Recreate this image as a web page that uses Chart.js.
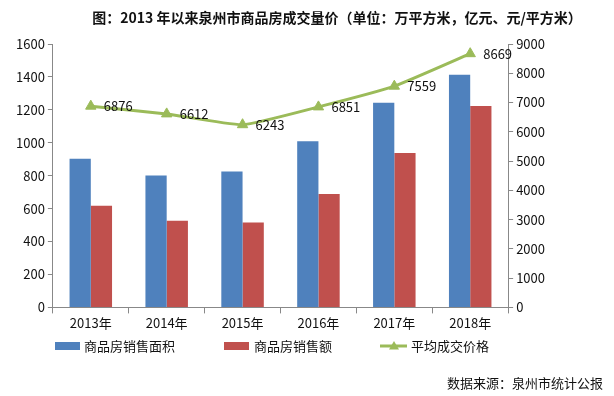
<!DOCTYPE html>
<html><head><meta charset="utf-8">
<script src="https://cdn.jsdelivr.net/npm/chart.js@4.4.1/dist/chart.umd.min.js"></script>
<style>html,body{margin:0;padding:0;background:#fff}#wrap{width:614px;height:396px;position:relative}</style>
</head><body><div id="wrap"><canvas id="c" width="614" height="396"></canvas></div>
<script>
const titleText = '图：2013 年以来泉州市商品房成交量价（单位：万平方米，亿元、元/平方米）';
const sourceText = '数据来源：泉州市统计公报';
const categories = ['2013年','2014年','2015年','2016年','2017年','2018年'];
const areaName = '商品房销售面积';
const salesName = '商品房销售额';
const priceName = '平均成交价格';
const areaValues = [903, 801, 826, 1009, 1243, 1413];
const salesValues = [618, 526, 516, 689, 938, 1223];
const priceValues = [6876, 6612, 6243, 6851, 7559, 8669];
const leftTicks = [0,200,400,600,800,1000,1200,1400,1600];
const rightTicks = [0,1000,2000,3000,4000,5000,6000,7000,8000,9000];

const FONT = '"Noto Sans CJK SC","Microsoft YaHei",sans-serif';
const BLUE = '#4F81BD', RED = '#C0504D', GREEN = '#9BBB59';

const extras = {
  id: 'extras',
  afterDatasetsDraw(chart) {
    const ctx = chart.ctx;
    ctx.save();
    const meta = chart.getDatasetMeta(2);
    ctx.font = '13px ' + FONT;
    ctx.fillStyle = '#111';
    ctx.textBaseline = 'middle';
    ctx.textAlign = 'left';
    meta.data.forEach((p, i) => {
      ctx.fillText(String(priceValues[i]), p.x + 13, p.y);
    });
    ctx.restore();
  },
  afterDraw(chart) {
    const ctx = chart.ctx;
    ctx.save();
    ctx.font = 'bold 14px ' + FONT;
    ctx.fillStyle = '#111';
    ctx.textAlign = 'center';
    ctx.textBaseline = 'middle';
    ctx.fillText(titleText, 337, 18);
    ctx.font = '13px ' + FONT;
    ctx.textAlign = 'left';
    const ly = 346;
    ctx.fillStyle = BLUE; ctx.fillRect(55, ly - 4, 25, 8);
    ctx.fillStyle = '#111'; ctx.fillText(areaName, 84, ly);
    ctx.fillStyle = RED; ctx.fillRect(224, ly - 4, 25, 8);
    ctx.fillStyle = '#111'; ctx.fillText(salesName, 254, ly);
    ctx.strokeStyle = GREEN; ctx.lineWidth = 3;
    ctx.beginPath(); ctx.moveTo(380, ly); ctx.lineTo(407, ly); ctx.stroke();
    ctx.fillStyle = GREEN;
    ctx.beginPath(); ctx.moveTo(394, ly - 5); ctx.lineTo(399, ly + 3.5); ctx.lineTo(389, ly + 3.5); ctx.closePath(); ctx.fill();
    ctx.fillStyle = '#111'; ctx.fillText(priceName, 411, ly);
    ctx.textAlign = 'right';
    ctx.fillText(sourceText, 603, 383);
    ctx.restore();
  }
};

new Chart(document.getElementById('c'), {
  type: 'bar',
  data: {
    labels: categories,
    datasets: [
      { label: areaName, data: areaValues, backgroundColor: BLUE, yAxisID: 'y', order: 1, barPercentage: 1, categoryPercentage: 0.56 },
      { label: salesName, data: salesValues, backgroundColor: RED, yAxisID: 'y', order: 1, barPercentage: 1, categoryPercentage: 0.56 },
      { type: 'line', label: priceName, data: priceValues, borderColor: GREEN, backgroundColor: GREEN, borderWidth: 3,
        pointStyle: 'triangle', pointRadius: 6, pointBackgroundColor: GREEN, pointBorderColor: GREEN, pointBorderWidth: 1,
        yAxisID: 'y1', order: 0, tension: 0.15 }
    ]
  },
  options: {
    responsive: false,
    animation: false,
    layout: { padding: { top: 44, bottom: 63, left: 13, right: 66 } },
    plugins: { legend: { display: false }, title: { display: false }, tooltip: { enabled: false } },
    scales: {
      x: {
        grid: { drawOnChartArea: false, drawTicks: true, tickLength: 6, color: '#888', offset: true },
        border: { display: true, color: '#888' },
        ticks: { color: '#111', font: { size: 13, family: FONT }, padding: 2 }
      },
      y: {
        position: 'left', min: 0, max: 1600,
        afterBuildTicks(axis) { axis.ticks = leftTicks.map(v => ({ value: v })); },
        grid: { drawOnChartArea: false, drawTicks: true, tickLength: 5, color: '#888' },
        border: { display: true, color: '#888' },
        ticks: { color: '#111', font: { size: 13, family: FONT }, padding: 3, callback: v => String(v) }
      },
      y1: {
        position: 'right', min: 0, max: 9000,
        afterBuildTicks(axis) { axis.ticks = rightTicks.map(v => ({ value: v })); },
        grid: { drawOnChartArea: false, drawTicks: true, tickLength: 5, color: '#888' },
        border: { display: true, color: '#888' },
        ticks: { color: '#111', font: { size: 13, family: FONT }, padding: 3, callback: v => String(v) }
      }
    }
  },
  plugins: [extras]
});
</script></body></html>
